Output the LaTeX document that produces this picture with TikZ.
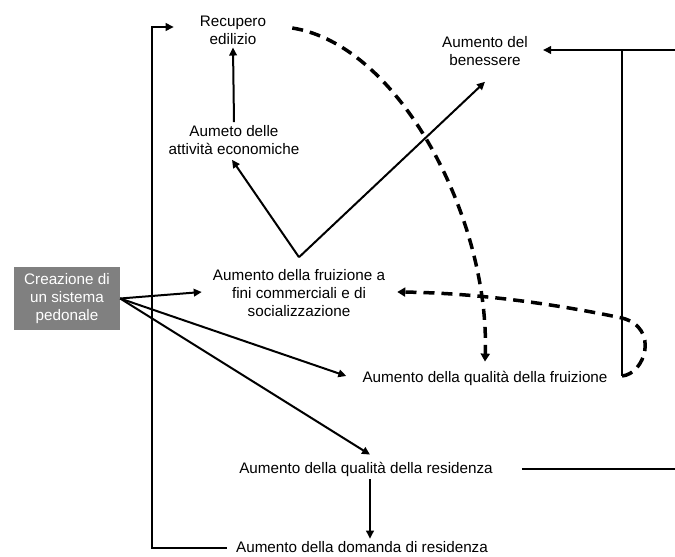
\documentclass[tikz,border=0pt]{standalone}
\usepackage{fontspec}
\setmainfont{Liberation Sans}
\usetikzlibrary{arrows.meta,calc}

\tikzset{
  lbl/.style={font=\fontsize{15.25pt}{18pt}\selectfont, align=center, inner sep=3pt},
  arr/.style={line width=2pt, -{Triangle[length=8pt,width=7.5pt]}},
  plain/.style={line width=2pt},
  darr/.style={line width=3.5pt, dash pattern=on 11pt off 7pt, -{Triangle[length=8pt,width=9pt]}},
  grey box/.style={lbl, fill=black!50, text=white, minimum width=106pt, minimum height=63pt}
}

\begin{document}
\begin{tikzpicture}[x=1pt,y=-1pt]
\useasboundingbox (0,0) rectangle (675,557);

% boxes and labels
\node[grey box] (src) at (67,298.5) {Creazione di\\un sistema\\pedonale};
\node[lbl] (recup) at (233,30) {Recupero\\edilizio};
\node[lbl] (attiv) at (234,140) {Aumeto delle\\attività economiche};
\node[lbl] (benes) at (485,51) {Aumento del\\benessere};
\node[lbl] (fruiz) at (299,293) {Aumento della fruizione a\\fini commerciali e di\\socializzazione};
\node[lbl] (qfru) at (485,378) {Aumento della qualità della fruizione};
\node[lbl] (qres) at (366,469) {Aumento della qualità della residenza};
\node[lbl] (dom) at (362,547.5) {Aumento della domanda di residenza};

% helper points for the loop lines
\coordinate (apex) at ([yshift=9pt]fruiz.north);
\coordinate (lft) at (152,0);
\coordinate (rtip) at ([shift={(-23pt,3pt)}]recup.west);
\coordinate (rtop) at (675,50);
\coordinate (vtop) at (622,50);
\coordinate (vbot) at (622,376);
\coordinate (rres) at (675,469);

% arrows from the pedestrian system
\draw[arr] (src.east) -- ([shift={(-8pt,1pt)}]fruiz.west);
\draw[arr] (src.east) -- ([shift={(-13pt,2pt)}]qfru.west);
\draw[arr] (src.east) -- ([shift={(4pt,4pt)}]qres.north);

% fruition branches
\draw[arr] (apex) -- ([shift={(-2pt,-2pt)}]attiv.south);
\draw[arr] (apex) -- ([yshift=-13pt]benes.south);
\draw[arr] (attiv.north) -- (recup.south);

% residence chain
\draw[arr] ([xshift=4pt]qres.south) -- ([xshift=8pt]dom.north);
\draw[arr] ([xshift=-6pt]dom.west) -| (lft |- rtip) -- (rtip);

% right-hand feedback lines
\draw[plain] ([xshift=26pt]qres.east) -- (rres);
\draw[arr] (rtop) -- ([shift={(12pt,1pt)}]benes.east);
\draw[plain] (vtop) -- (vbot);

% dashed feedback curves
\draw[darr] ([shift={(23pt,2pt)}]recup.east) .. controls (400,45) and (490,220) .. ([yshift=6pt]qfru.north);
\draw[darr] (vbot) .. controls (645,374) and (660,328) .. (622,318)
  .. controls (560,305) and (480,293) .. ([shift={(9pt,1pt)}]fruiz.east);
\end{tikzpicture}
\end{document}
